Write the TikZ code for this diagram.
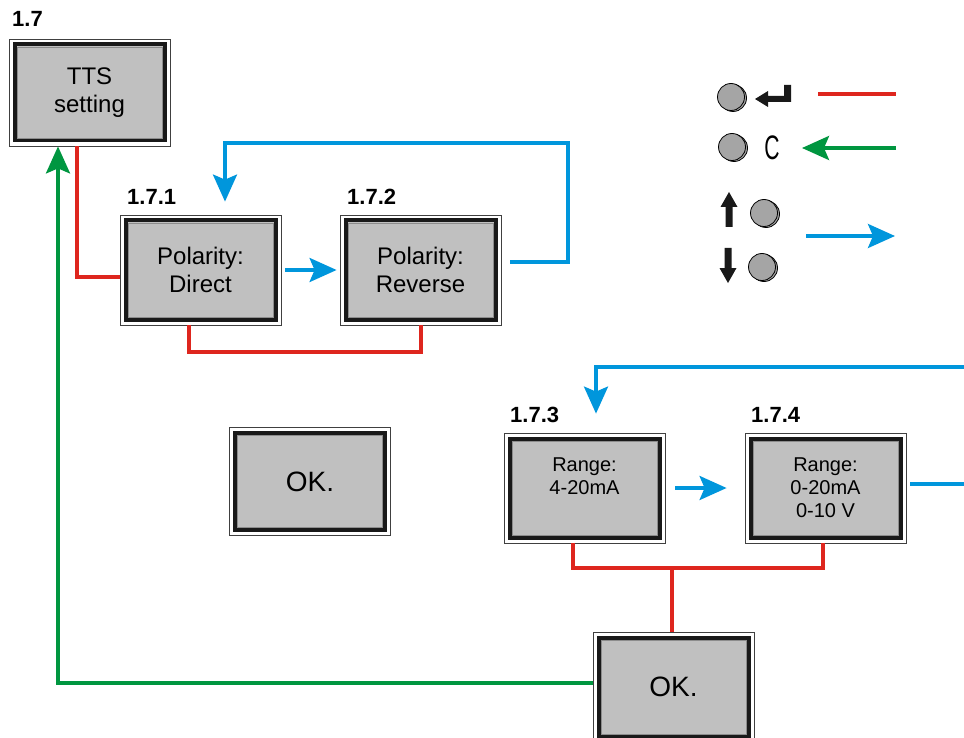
\documentclass[tikz,border=0pt]{standalone}
\usepackage{fontspec}
\setmainfont{Liberation Sans}
\usetikzlibrary{arrows.meta}
\definecolor{boxgray}{RGB}{192,192,192}
\definecolor{myred}{RGB}{222,38,30}
\definecolor{mygreen}{RGB}{0,150,64}
\definecolor{myblue}{RGB}{0,150,220}
\definecolor{btngray}{RGB}{165,165,165}
\begin{document}
\begin{tikzpicture}[x=1pt,y=-1pt,
  menubox/.style={minimum width=161pt, minimum height=#1, inner sep=0pt,
    draw=black!75, line width=0.8pt, fill=white, align=center,
    path picture={
      \draw[line width=4pt, draw=black!90, fill=boxgray]
        ([shift={(5.5pt,-5.5pt)}]path picture bounding box.north west) rectangle
        ([shift={(-5.5pt,5.5pt)}]path picture bounding box.south east);
      \draw[line width=0.7pt, draw=black!45]
        ([shift={(8pt,-8pt)}]path picture bounding box.north west) rectangle
        ([shift={(-8pt,8pt)}]path picture bounding box.south east);
    }},
  menubox/.default=110pt,
  bigtxt/.style={font=\fontsize{24}{27.5}\selectfont},
  midtxt/.style={font=\fontsize{20}{23}\selectfont},
  oktxt/.style={font=\fontsize{28}{30}\selectfont},
  lbl/.style={anchor=base west, inner sep=0pt, font=\fontsize{22}{26}\selectfont\bfseries},
  redline/.style={draw=myred, line width=4pt},
  blueline/.style={draw=myblue, line width=3.5pt},
  bluearr/.style={blueline, -{Stealth[length=27pt,width=24pt,inset=5pt]}},
  greenarr/.style={draw=mygreen, line width=3.5pt, -{Stealth[length=27pt,width=24pt,inset=5pt]}},
  legendbutton/.pic={
    \draw[fill=btngray, line width=0.8pt] (2,1) circle[radius=13.5];
    \draw[fill=btngray, line width=0.8pt] (0,0) circle[radius=13.5];
  }
]
\clip (0,0) rectangle (964,738);
\fill[white] (0,0) rectangle (964,738);

% boxes
\node[menubox=107pt, bigtxt] (tts) at (89.5,92.5) {TTS\\setting};
\node[menubox, bigtxt] (p1) at (200.5,270) {Polarity:\\Direct};
\node[menubox, bigtxt] (p2) at (420.5,270) {Polarity:\\Reverse};
\node[menubox=108pt, oktxt] (ok1) at (310,481.5) {OK.};
\node[menubox, midtxt] (r1) at (584.5,488) {Range:\\4-20mA\\~};
\node[menubox, midtxt] (r2) at (825.5,488) {Range:\\0-20mA\\0-10 V};
\node[menubox, oktxt] (ok2) at (673.5,687) {OK.};

% labels
\node[lbl] (l0) at (12,27) {1.7};
\node[lbl] (l1) at (127,205) {1.7.1};
\node[lbl] (l2) at (347,205) {1.7.2};
\node[lbl] (l3) at (510,422) {1.7.3};
\node[lbl] (l4) at (751,422) {1.7.4};

% red connectors
\draw[redline] ([xshift=-12.5pt]tts.south) |- ([yshift=-7pt]p1.west);
\draw[redline] ([xshift=-11.5pt]p1.south) -- ++(0,27) -| (p2.south);
\draw[redline] ([xshift=-11.5pt]r1.south) -- ++(0,25) -| ([xshift=-2.5pt]r2.south);
\coordinate (rj) at (672,568);
\draw[redline] (rj) -- (rj |- ok2.north);

% blue connectors
\draw[bluearr] ([xshift=4pt]p1.east) -- ([xshift=-3pt]p2.west);
\draw[bluearr] ([shift={(9pt,8pt)}]p2.east) -| (568,143) -| ([shift={(24.5pt,13pt)}]p1.north);
\draw[bluearr] ([xshift=10pt]r1.east) -- ([xshift=-18pt]r2.west);
\coordinate (rightA) at (970,484);
\coordinate (rightB) at (970,367);
\draw[blueline] ([shift={(4pt,4pt)}]r2.east) -- (rightA);
\draw[bluearr] (rightB) -| ([shift={(11.5pt,19pt)}]r1.north);

% green connector
\draw[greenarr] ([yshift=4pt]ok2.west) -| ([xshift=-31.5pt]tts.south);

% legend
\pic at (731,97) {legendbutton};
\pic at (732,147) {legendbutton};
\pic at (764,213) {legendbutton};
\pic at (762,267) {legendbutton};
\fill[black!90] (755,99) -- (768,91) -- (768,96) -- (784,96) -- (784,85) -- (791,85)
  -- (791,102) -- (768,102) -- (768,107) -- cycle;
\node[inner sep=0pt, font=\fontsize{34}{34}\selectfont, xscale=0.62] (cc) at (772,148) {C};
\fill[black!90] (729,192) -- (737.5,207) -- (732.5,207) -- (732.5,227) -- (725.5,227) -- (725.5,207) -- (720.5,207) -- cycle;
\fill[black!90] (728,283) -- (736.5,268) -- (731.5,268) -- (731.5,248) -- (724.5,248) -- (724.5,268) -- (719.5,268) -- cycle;
\coordinate (lg1) at (818,94);
\coordinate (lg2) at (896,94);
\draw[redline] (lg1) -- (lg2);
\coordinate (lg3) at (896,148);
\coordinate (lg4) at (802,148);
\draw[greenarr] (lg3) -- (lg4);
\coordinate (lg5) at (806,236);
\coordinate (lg6) at (895,236);
\draw[bluearr] (lg5) -- (lg6);
\end{tikzpicture}
\end{document}
